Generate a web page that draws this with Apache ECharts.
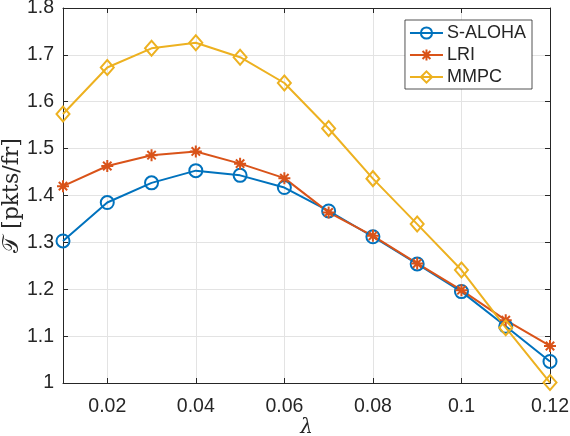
<!DOCTYPE html>
<html>
<head>
<meta charset="utf-8">
<script src="https://cdn.jsdelivr.net/npm/echarts@6/dist/echarts.min.js"></script>
<style>
  html, body { margin: 0; padding: 0; background: #fff; }
  #chart { width: 570px; height: 436px; }
</style>
</head>
<body>
<div id="chart"></div>
<script>
// 到达率 λ
const lambdas = [0.01, 0.02, 0.03, 0.04, 0.05, 0.06, 0.07, 0.08, 0.09, 0.10, 0.11, 0.12];
// 吞吐量 (pkts/fr)
const sAloha = [1.303, 1.385, 1.427, 1.453, 1.443, 1.417, 1.367, 1.312, 1.254, 1.195, 1.121, 1.046];
const lri = [1.420, 1.463, 1.486, 1.494, 1.468, 1.437, 1.364, 1.314, 1.255, 1.198, 1.134, 1.079];
const mmpc = [1.574, 1.673, 1.714, 1.726, 1.695, 1.640, 1.543, 1.436, 1.339, 1.241, 1.118, 1.001];
// 刻度
const xTicks = [0.02, 0.04, 0.06, 0.08, 0.10, 0.12];
const seriesNames = ['S-ALOHA', 'LRI', 'MMPC'];

const colors = ['#0072BD', '#D95319', '#EDB120'];
const axisColor = '#262626';
const gridColor = '#e3e3e3';
const asterisk = 'path://M0,-1L0,1M-1,0L1,0M-0.7,-0.7L0.7,0.7M-0.7,0.7L0.7,-0.7';

const chart = echarts.init(document.getElementById('chart'));

function pairs(ys) {
  return lambdas.map((x, i) => [x, ys[i]]);
}

function makeSeries(name, ys, color, symbol, size) {
  return {
    name: name,
    type: 'line',
    data: pairs(ys),
    symbol: symbol,
    symbolSize: size,
    showAllSymbol: true,
    lineStyle: { color: color, width: 2 },
    itemStyle: { color: 'transparent', borderColor: color, borderWidth: 2 },
    emphasis: { disabled: true },
    z: 3
  };
}

const labelFont = { fontFamily: 'Liberation Sans, Arial, sans-serif', fontSize: 19.5, color: axisColor };

chart.setOption({
  animation: false,
  color: colors,
  grid: { left: 63, right: 20, top: 8, bottom: 53, containLabel: false, outerBoundsMode: 'none' },
  legend: {
    orient: 'vertical',
    right: 38,
    top: 20,
    data: seriesNames,
    itemWidth: 33,
    itemHeight: 14,
    itemGap: 4,
    padding: [4, 6, 3, 4],
    backgroundColor: '#fff',
    borderColor: axisColor,
    borderWidth: 0.8,
    textStyle: {
      fontFamily: 'Liberation Sans, Arial, sans-serif',
      fontSize: 18,
      lineHeight: 18,
      color: axisColor,
      padding: [0, 0, 0, -1]
    }
  },
  xAxis: [
    {
      type: 'value',
      min: 0.01,
      max: 0.12,
      name: 'λ',
      nameLocation: 'middle',
      nameGap: 35,
      nameMoveOverlap: false,
      nameTextStyle: { fontFamily: 'DejaVu Serif, serif', fontStyle: 'italic', fontSize: 20, color: axisColor },
      axisLine: { onZero: false, lineStyle: { color: axisColor, width: 1 } },
      axisTick: { inside: true, length: 5, customValues: xTicks, lineStyle: { color: axisColor } },
      axisLabel: Object.assign({ margin: 14, customValues: xTicks, formatter: v => String(+v.toFixed(2)) }, labelFont),
      splitLine: { show: true, lineStyle: { color: gridColor, width: 1 } }
    },
    {
      type: 'value',
      position: 'top',
      min: 0.01,
      max: 0.12,
      axisLine: { onZero: false, lineStyle: { color: axisColor, width: 1 } },
      axisTick: { inside: true, length: 5, customValues: xTicks, lineStyle: { color: axisColor } },
      axisLabel: { show: false },
      splitLine: { show: false }
    }
  ],
  yAxis: [
    {
      type: 'value',
      min: 1,
      max: 1.8,
      interval: 0.1,
      name: '𝒯 [pkts/fr]',
      nameLocation: 'middle',
      nameRotate: 90,
      nameGap: 40,
      nameMoveOverlap: false,
      nameTextStyle: { fontFamily: 'DejaVu Serif, serif', fontSize: 22, color: axisColor },
      axisLine: { onZero: false, lineStyle: { color: axisColor, width: 1 } },
      axisTick: { inside: true, length: 5, lineStyle: { color: axisColor } },
      axisLabel: Object.assign({ margin: 9, formatter: v => String(+v.toFixed(1)) }, labelFont),
      splitLine: { show: true, lineStyle: { color: gridColor, width: 1 } }
    },
    {
      type: 'value',
      position: 'right',
      min: 1,
      max: 1.8,
      interval: 0.1,
      axisLine: { onZero: false, lineStyle: { color: axisColor, width: 1 } },
      axisTick: { inside: true, length: 5, lineStyle: { color: axisColor } },
      axisLabel: { show: false },
      splitLine: { show: false }
    }
  ],
  series: [
    makeSeries(seriesNames[0], sAloha, colors[0], 'circle', 13),
    makeSeries(seriesNames[1], lri, colors[1], asterisk, 12),
    makeSeries(seriesNames[2], mmpc, colors[2], 'diamond', [13, 15])
  ]
});
</script>
</body>
</html>
